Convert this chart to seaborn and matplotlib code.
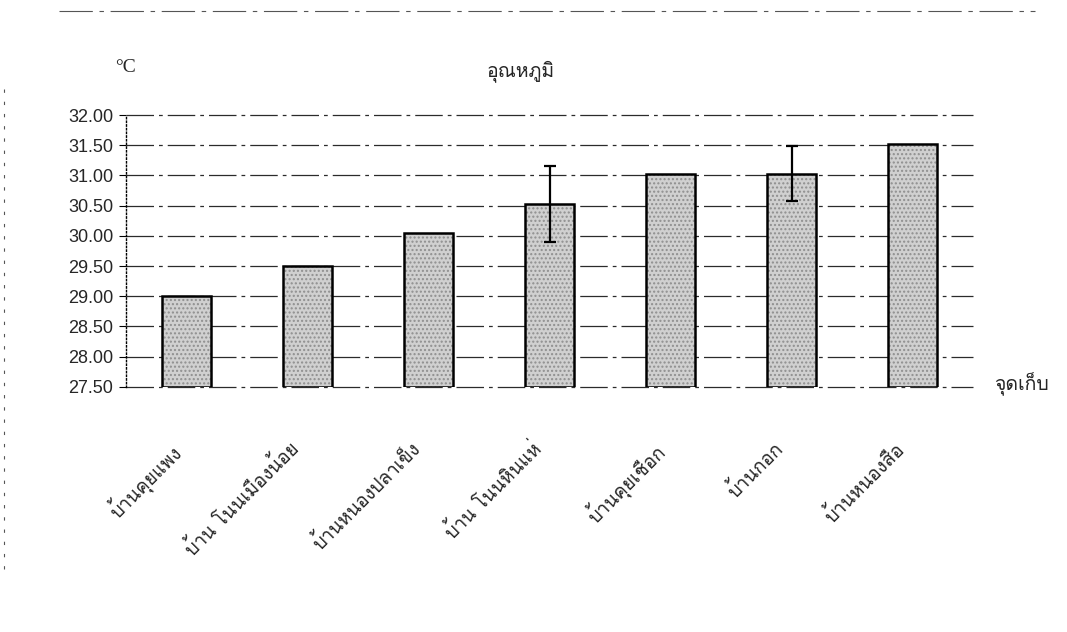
"""
Bar chart of mean water temperature at each sampling site (อุณหภูมิ),
with error bars where the source shows them.
"""
import numpy as np
import pandas as pd
import matplotlib
matplotlib.use("Agg")
import matplotlib.pyplot as plt
import matplotlib.transforms as mtransforms
from matplotlib import font_manager
from matplotlib.ft2font import FT2Font
import seaborn as sns

# data
sites = ["บ้านคุยแพง", "บ้าน โนนเมืองน้อย", "บ้านหนองปลาเข็ง", "บ้าน โนนหินแห่",
         "บ้านคุยเชือก", "บ้านกอก", "บ้านหนองสือ"]
temps = [29.00, 29.50, 30.05, 30.52, 31.02, 31.03, 31.52]
errors = [np.nan, np.nan, np.nan, 0.63, np.nan, 0.45, np.nan]
y_ticks = [27.50, 28.00, 28.50, 29.00, 29.50, 30.00, 30.50, 31.00, 31.50, 32.00]

title = "อุณหภูมิ"
unit_label = "°C"
x_label = "จุดเก็บ"


def find_thai_font():
    """Return the name of an installed family that has Thai glyphs, if any."""
    for f in font_manager.fontManager.ttflist:
        try:
            if 0x0E01 in FT2Font(f.fname).get_charmap():
                return f.name
        except Exception:
            continue
    return None


sns.set_theme(style="white")
thai = find_thai_font()
num_family = ["Liberation Sans", "DejaVu Sans"]
thai_family = ([thai] if thai else []) + ["Liberation Serif", "DejaVu Sans"]
plt.rcParams["font.family"] = num_family

df = pd.DataFrame({"site": sites, "temp": temps})

fig = plt.figure(figsize=(10.67, 6.32), dpi=100)
ax = fig.add_axes([0.118, 0.388, 0.794, 0.430])

# horizontal grid lines, broken like the scanned original
for t in y_ticks:
    ax.axhline(t, color="#2b2b2b", lw=0.9, ls=(0, (22, 4, 3, 4)),
               zorder=0, clip_on=False)

sns.barplot(data=df, x="site", y="temp", color="#d0d0d0", width=0.4,
            edgecolor="#8f8f8f", linewidth=0, hatch="....", ax=ax, zorder=2)
# crisp black outline over the stippled fill
ax.bar(range(len(sites)), np.array(temps) - y_ticks[0], bottom=y_ticks[0],
       width=0.4, fill=False, edgecolor="black", linewidth=1.8, zorder=3)

ax.errorbar(range(len(sites)), temps, yerr=errors, fmt="none",
            ecolor="black", elinewidth=1.6, capsize=4, capthick=1.6, zorder=4)

ax.set_ylim(y_ticks[0], y_ticks[-1])
ax.set_xlim(-0.5, len(sites) - 0.5)
ax.set_yticks(y_ticks)
ax.set_yticklabels([f"{t:.2f}" for t in y_ticks], fontsize=13)
ax.set_xlabel("")
ax.set_ylabel("")

ax.set_xticks(range(len(sites)))
ax.set_xticklabels(sites, rotation=45, ha="right", rotation_mode="anchor",
                   family=thai_family, fontsize=13.5)
ax.tick_params(axis="x", length=0, pad=37)
shift = mtransforms.ScaledTranslation(-0.19, 0, fig.dpi_scale_trans)
for lbl in ax.get_xticklabels():
    lbl.set_transform(lbl.get_transform() + shift)
ax.tick_params(axis="y", direction="out", length=5, width=0.8, color="black",
               left=True, pad=4)

for side in ["top", "right", "bottom"]:
    ax.spines[side].set_visible(False)
ax.spines["left"].set_linestyle(":")
ax.spines["left"].set_color("black")
ax.spines["left"].set_linewidth(1.0)

fig.text(0.488, 0.888, title, family=thai_family, fontsize=14,
         ha="center", va="center")
fig.text(0.118, 0.893, unit_label, family=["Liberation Serif", "DejaVu Serif"],
         fontsize=14, ha="center", va="center")
fig.text(0.957, 0.392, x_label, family=thai_family, fontsize=14,
         ha="center", va="center")

# faint page edge from the scan
fig.add_artist(plt.Line2D([0.055, 0.97], [0.982, 0.982], color="#555555",
                          lw=0.8, ls=(0, (30, 6, 4, 6))))
fig.add_artist(plt.Line2D([0.004, 0.004], [0.1, 0.86], color="#555555",
                          lw=0.8, ls=(0, (3, 8))))

fig.savefig("out.png", dpi=100)
